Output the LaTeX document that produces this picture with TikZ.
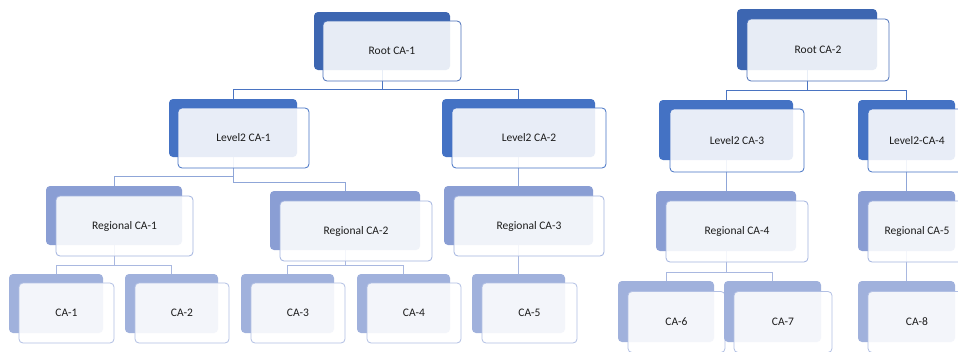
\documentclass[tikz,border=0pt]{standalone}
\usepackage{fontspec}
\setmainfont{Carlito}
\pgfdeclarelayer{paper}
\pgfdeclarelayer{bg}
\pgfsetlayers{paper,bg,main}
\definecolor{rootback}{HTML}{3D66B1}
\definecolor{ltwoback}{HTML}{4472C4}
\definecolor{regback}{HTML}{8A9ED4}
\definecolor{caback}{HTML}{A0B1DC}
\definecolor{rootline}{HTML}{4A70B9}
\definecolor{ltwoline}{HTML}{4472C4}
\definecolor{regline}{HTML}{A2B3DF}
\definecolor{caline}{HTML}{B2C0E4}
\definecolor{conA}{HTML}{4A74C2}
\definecolor{conB}{HTML}{8FA6D8}
\definecolor{conC}{HTML}{A9B8E0}
\definecolor{txt}{HTML}{1C1C1C}
\tikzset{
  box/.style={rectangle, rounded corners=4pt, inner sep=0pt, outer sep=0pt},
  backbox/.style={box, draw=none},
  frontbox/.style={box, line width=0.8pt, fill=white, fill opacity=0.88, text opacity=1,
    text=txt, font=\fontsize{11.5}{13}\selectfont},
  rootbk/.style={backbox, fill=rootback},
  ltwobk/.style={backbox, fill=ltwoback},
  regbk/.style={backbox, fill=regback},
  cabk/.style={backbox, fill=caback},
  rootfr/.style={frontbox, draw=rootline},
  ltwofr/.style={frontbox, draw=ltwoline},
  regfr/.style={frontbox, draw=regline},
  cafr/.style={frontbox, draw=caline},
  linkA/.style={draw=conA, line width=0.8pt},
  linkB/.style={draw=conB, line width=0.8pt},
  linkC/.style={draw=conC, line width=0.8pt},
}
\begin{document}
\begin{tikzpicture}[x=1pt,y=-1pt]
\useasboundingbox (0,0) rectangle (958,351);
\clip (0,0) rectangle (958,351);
\begin{pgfonlayer}{paper}
\fill[white] (0,0) rectangle (958,351);
\end{pgfonlayer}
% ---- Root level
\node[rootbk, minimum width=136pt, minimum height=58pt] (r1b) at (382,41) {};
\node[rootfr, minimum width=138pt, minimum height=60pt] (r1) at (392,51) {Root CA-1};
\node[rootbk, minimum width=140pt, minimum height=61pt] (r2b) at (807,39.5) {};
\node[rootfr, minimum width=142pt, minimum height=62pt] (r2) at (818,50) {Root CA-2};
% ---- Level2
\node[ltwobk, minimum width=128pt, minimum height=58pt] (l1b) at (233,128) {};
\node[ltwofr, minimum width=131pt, minimum height=60pt] (l1) at (243.5,138) {Level2 CA-1};
\node[ltwobk, minimum width=153pt, minimum height=58pt] (l2b) at (518.5,128) {};
\node[ltwofr, minimum width=154pt, minimum height=60pt] (l2) at (529,138) {Level2 CA-2};
\node[ltwobk, minimum width=134pt, minimum height=60pt] (l3b) at (726,130) {};
\node[ltwofr, minimum width=134pt, minimum height=63pt] (l3) at (737,140.5) {Level2 CA-3};
\node[ltwobk, minimum width=97pt, minimum height=60pt] (l4b) at (906.5,130) {};
\node[ltwofr, minimum width=98pt, minimum height=63pt] (l4) at (917,140.5) {Level2-CA-4};
% ---- Regional
\node[regbk, minimum width=136pt, minimum height=59pt] (g1b) at (114,215.5) {};
\node[regfr, minimum width=137pt, minimum height=60pt] (g1) at (124.5,226) {Regional CA-1};
\node[regbk, minimum width=150pt, minimum height=59pt] (g2b) at (345,220.5) {};
\node[regfr, minimum width=152pt, minimum height=60pt] (g2) at (356,231) {Regional CA-2};
\node[regbk, minimum width=149pt, minimum height=59pt] (g3b) at (518.5,215.5) {};
\node[regfr, minimum width=150pt, minimum height=60pt] (g3) at (529,226) {Regional CA-3};
\node[regbk, minimum width=140pt, minimum height=60pt] (g4b) at (726,221) {};
\node[regfr, minimum width=142pt, minimum height=61pt] (g4) at (737,231.5) {Regional CA-4};
\node[regbk, minimum width=97pt, minimum height=60pt] (g5b) at (906.5,221) {};
\node[regfr, minimum width=98pt, minimum height=61pt] (g5) at (917,231.5) {Regional CA-5};
% ---- CA level
\node[cabk, minimum width=94pt, minimum height=59pt] (c1b) at (56,303.5) {};
\node[cafr, minimum width=95pt, minimum height=60pt] (c1) at (66.5,313) {CA-1};
\node[cabk, minimum width=93pt, minimum height=59pt] (c2b) at (171.5,303.5) {};
\node[cafr, minimum width=94pt, minimum height=60pt] (c2) at (182,313) {CA-2};
\node[cabk, minimum width=93pt, minimum height=59pt] (c3b) at (287.5,303.5) {};
\node[cafr, minimum width=94pt, minimum height=60pt] (c3) at (298,313) {CA-3};
\node[cabk, minimum width=93pt, minimum height=59pt] (c4b) at (403.5,303.5) {};
\node[cafr, minimum width=94pt, minimum height=60pt] (c4) at (414,313) {CA-4};
\node[cabk, minimum width=93pt, minimum height=59pt] (c5b) at (518.5,303.5) {};
\node[cafr, minimum width=95pt, minimum height=60pt] (c5) at (529.5,313) {CA-5};
\node[cabk, minimum width=96pt, minimum height=61pt] (c6b) at (666,311.5) {};
\node[cafr, minimum width=97pt, minimum height=61pt] (c6) at (676.5,322) {CA-6};
\node[cabk, minimum width=97pt, minimum height=61pt] (c7b) at (772.5,311.5) {};
\node[cafr, minimum width=98pt, minimum height=61pt] (c7) at (783,322) {CA-7};
\node[cabk, minimum width=97pt, minimum height=61pt] (c8b) at (906.5,311.5) {};
\node[cafr, minimum width=98pt, minimum height=61pt] (c8) at (917,322) {CA-8};
% ---- Connectors
\begin{pgfonlayer}{bg}
\draw[linkA] (r1b.south) -- ++(0,19) -| (l1b.north);
\draw[linkA] (r1b.south) -- ++(0,19) -| (l2b.north);
\draw[linkA] (r2b.south) -- ++(0,20) -| (l3b.north);
\draw[linkA] (r2b.south) -- ++(0,20) -| (l4b.north);
\draw[linkB] (l1b.south) -- ++(0,19) -| (g1b.north);
\draw[linkB] (l1b.south) -- ++(0,25) -| (g2b.north);
\draw[linkB] (l2b.south) -- (g3b.north);
\draw[linkB] (l3b.south) -- (g4b.north);
\draw[linkB] (l4b.south) -- (g5b.north);
\draw[linkC] (g1b.south) -- ++(0,20) -| (c1b.north);
\draw[linkC] (g1b.south) -- ++(0,20) -| (c2b.north);
\draw[linkC] (g2b.south) -- ++(0,15) -| (c3b.north);
\draw[linkC] (g2b.south) -- ++(0,15) -| (c4b.north);
\draw[linkC] (g3b.south) -- (c5b.north);
\draw[linkC] (g4b.south) -- ++(0,21) -| (c6b.north);
\draw[linkC] (g4b.south) -- ++(0,21) -| (c7b.north);
\draw[linkC] (g5b.south) -- (c8b.north);
\end{pgfonlayer}
\end{tikzpicture}
\end{document}
